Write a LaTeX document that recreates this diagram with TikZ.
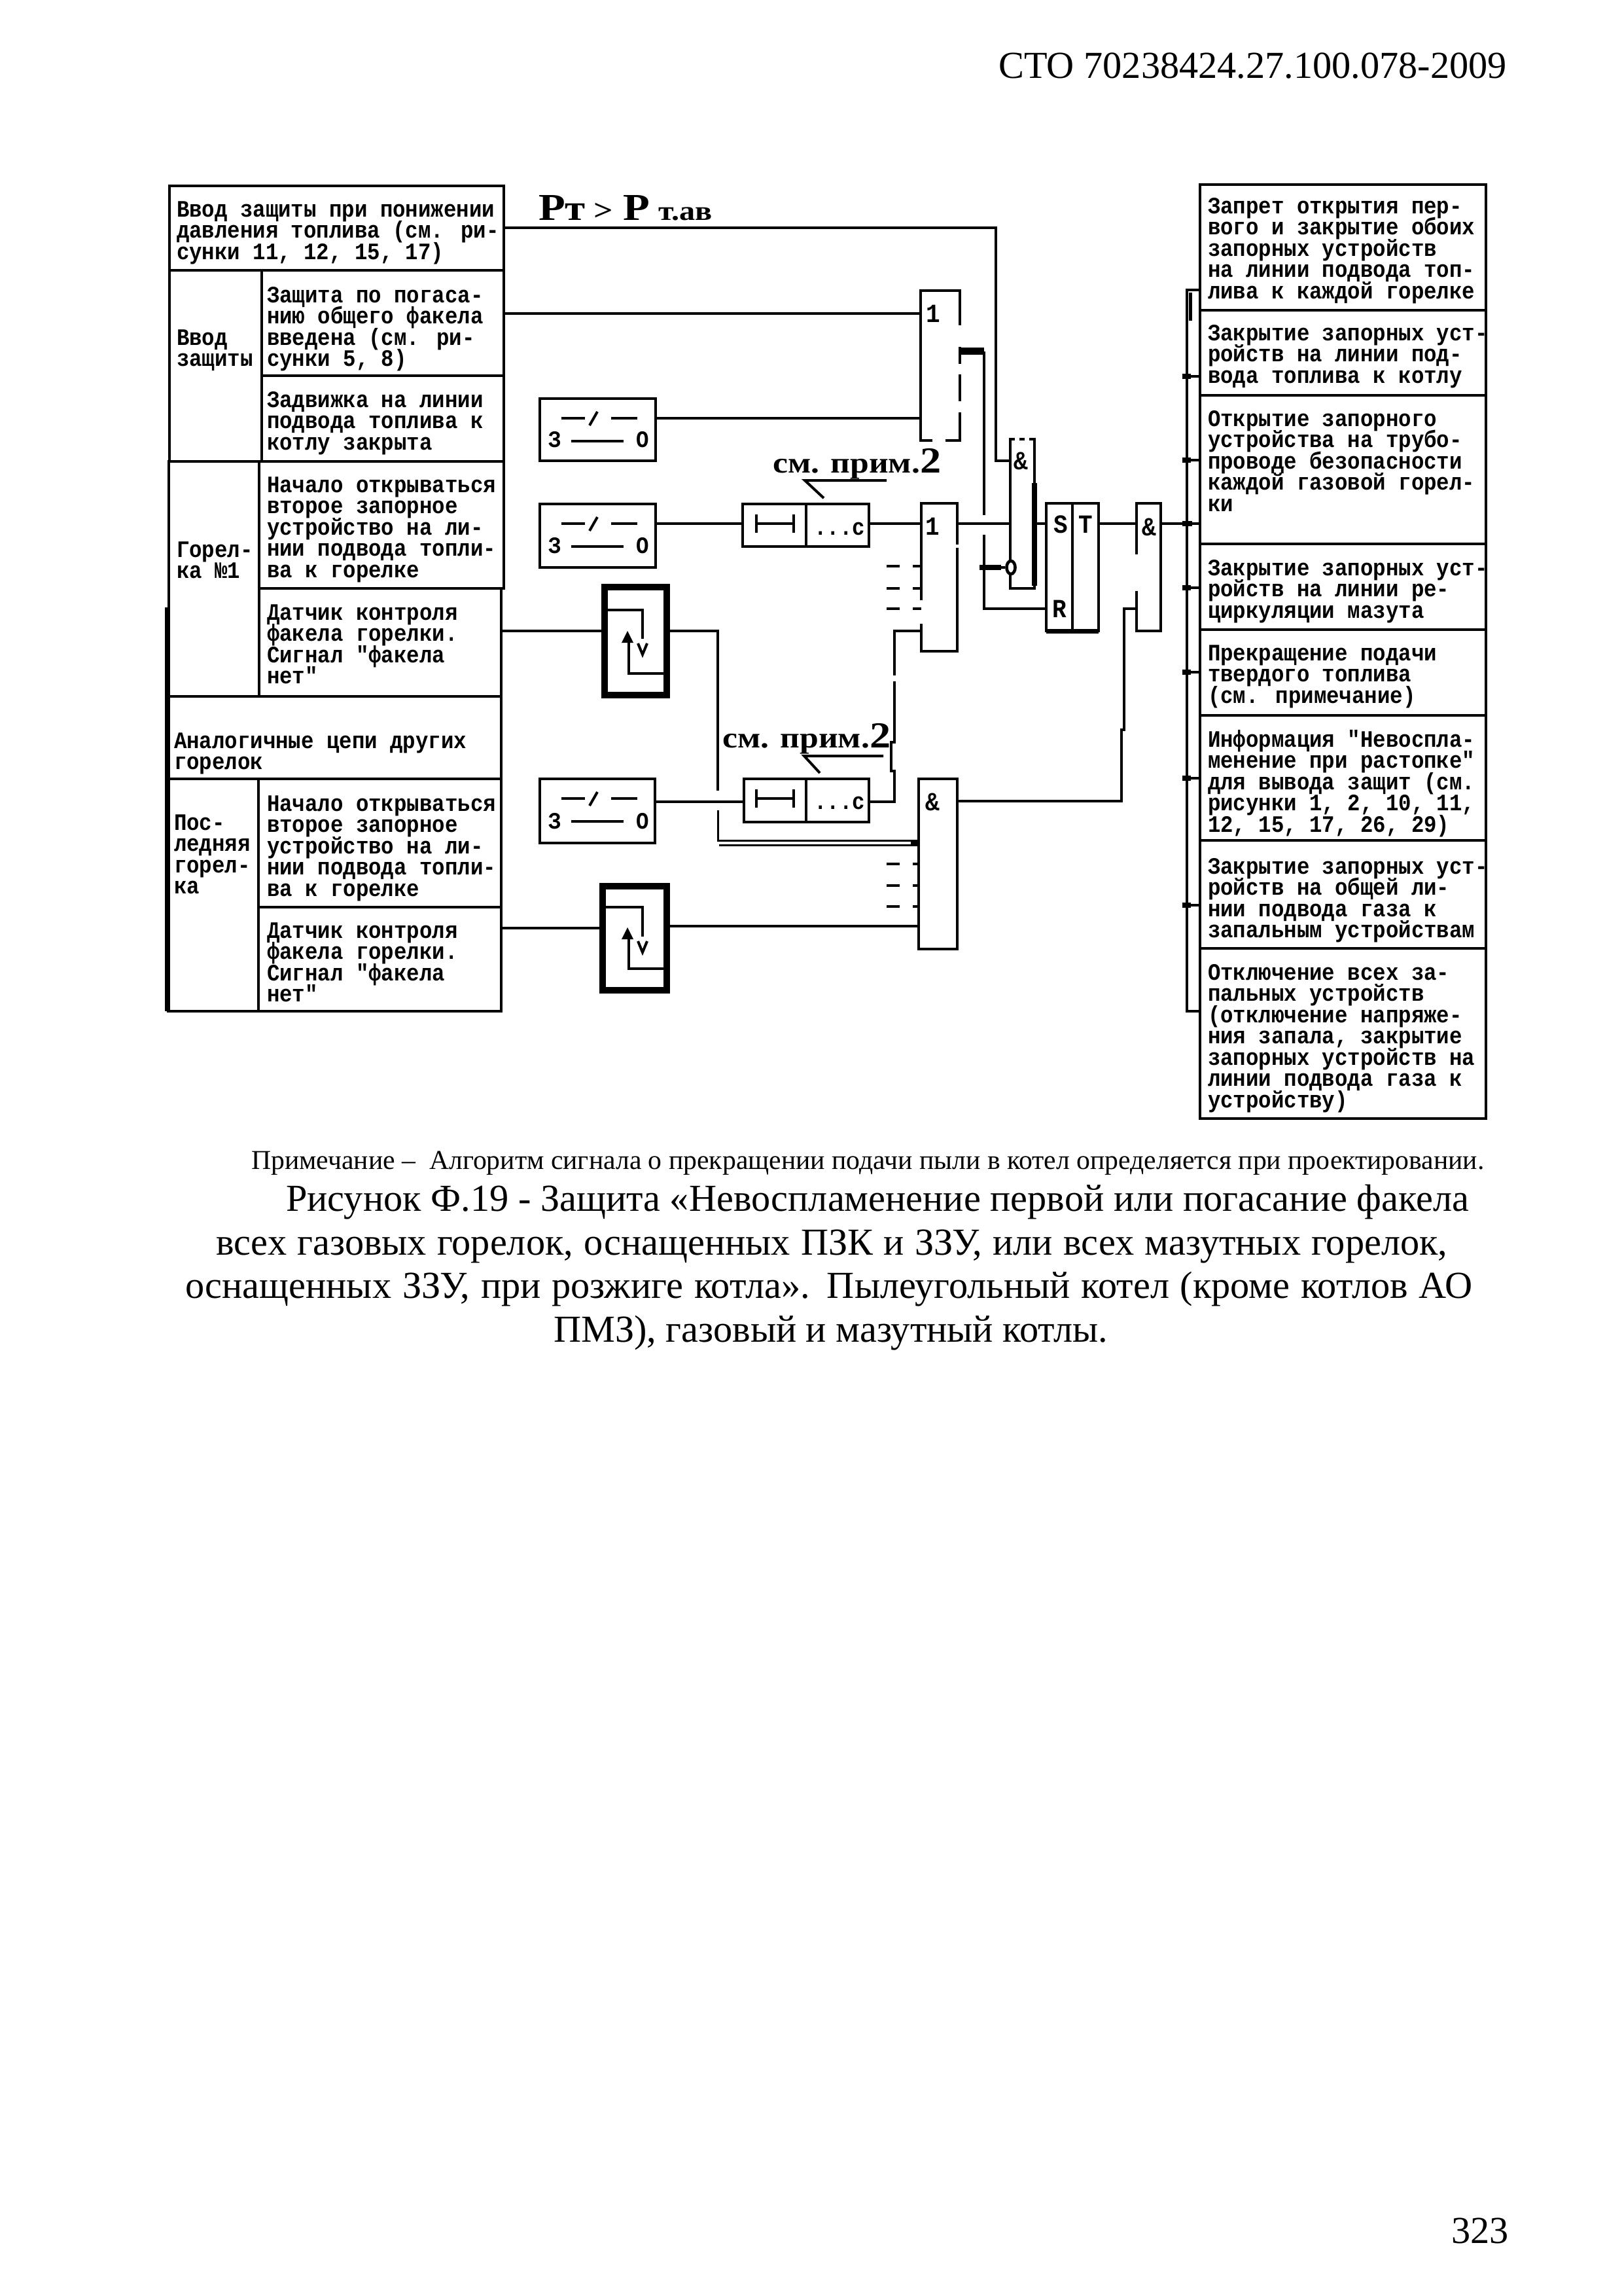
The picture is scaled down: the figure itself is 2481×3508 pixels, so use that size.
\documentclass[tikz,border=0pt]{standalone}
\usepackage{fontspec}
\usetikzlibrary{shapes.geometric}
\setmainfont{Liberation Serif}
\newfontfamily\pix[FakeStretch=0.9]{Liberation Mono}
\newfontfamily\slabf[FakeStretch=1.15]{Liberation Serif}
\newcommand\cellfont{\pix\bfseries\fontsize{36}{32.5}\selectfont\lineskiplimit -100pt\relax}
\newcommand\blk[6]{\node[#6,anchor=north west,minimum width={(#4-#2)*1pt},minimum height={(#5-#3)*1pt}] (#1) at (#2,#3) {};}
\newcommand\celltext[4]{\node[txt] (#1) at (#2,#3-12) {\rule{0pt}{24pt}#4};}
\newcommand\swsym[1]{%
  \draw[thin line] (858,#1+30) -- (894,#1+30);
  \draw[thin line] (913,#1+20) -- (901,#1+41);
  \draw[thin line] (934,#1+30) -- (974,#1+30);
  \draw[thin line] (873,#1+65) -- (953,#1+65);
}
\newcommand\relsym[5]{% top-line y, turn y, arrow tip y, low y
  \draw[ln] (#5.west |- 0,#1) -- (982,#1) -- (982,#2);
  \draw[line width=4] (975,#2+7) -- (982,#2+24) -- (989,#2+7);
  \fill (950,#3+8) -- (959,#3-10) -- (968,#3+8) -- cycle;
  \draw[ln] (961,#3+8) -- (961,#4) -- (#5.east |- 0,#4);
}
\tikzset{
  ln/.style={line width=4.6pt},
  thin line/.style={line width=4pt},
  box/.style={draw,rectangle,line width=4.6pt,inner sep=0pt,outer sep=0pt},
  relay/.style={draw,rectangle,line width=10pt,inner sep=0pt,outer sep=0pt},
  txt/.style={anchor=north west,inner sep=0pt,outer sep=0pt,align=left,font=\cellfont},
  glab/.style={inner sep=0pt,font=\pix\bfseries\fontsize{40}{40}\selectfont},
  slab/.style={inner sep=0pt,font=\pix\bfseries\fontsize{36}{36}\selectfont},
  doc/.style={anchor=base west,inner sep=0pt,font=\fontsize{58.3}{60}\selectfont},
  note/.style={anchor=base west,inner sep=0pt,font=\fontsize{41.7}{50}\selectfont},
  prim/.style={anchor=base west,inner sep=0pt,font=\slabf\bfseries\fontsize{45}{45}\selectfont},
}
\begin{document}
\begin{tikzpicture}[x=1pt,y=-1pt]
\useasboundingbox (0,0) rectangle (2481,3508);
\fill[white] (0,0) rectangle (2481,3508);

% left table
\blk{L1}{259}{284}{770}{413}{box}
\blk{L2}{259}{413}{400}{705}{box}
\blk{L3}{400}{413}{770}{574}{box}
\blk{L4}{400}{574}{770}{705}{box}
\blk{L5}{258}{705}{396}{1064}{box}
\blk{L6}{396}{705}{770}{899}{box}
\blk{L7}{396}{899}{766}{1064}{box}
\blk{L8}{257}{1064}{766}{1190}{box}
\blk{L9}{257}{1190}{395}{1545}{box}
\blk{L10}{395}{1190}{766}{1386}{box}
\blk{L11}{395}{1386}{766}{1545}{box}
\draw[line width=8pt] (256,928) -- (256,1545);

\celltext{tL1}{270}{319}{Ввод защиты при понижении\\давления топлива (см. ри-\\сунки 11, 12, 15, 17)}
\celltext{tL2}{270}{515}{Ввод\\защиты}
\celltext{tL3}{408}{450}{Защита по погаса-\\нию общего факела\\введена (см. ри-\\сунки 5, 8)}
\celltext{tL4}{408}{610}{Задвижка на линии\\подвода топлива к\\котлу закрыта}
\celltext{tL5}{270}{839}{Горел-\\ка №1}
\celltext{tL6}{408}{740}{Начало открываться\\второе запорное\\устройство на ли-\\нии подвода топли-\\ва к горелке}
\celltext{tL7}{408}{935}{Датчик контроля\\факела горелки.\\Сигнал "факела\\нет"}
\celltext{tL8}{266}{1131}{Аналогичные цепи других\\горелок}
\celltext{tL9}{266}{1256}{Пос-\\ледняя\\горел-\\ка}
\celltext{tL10}{408}{1227}{Начало открываться\\второе запорное\\устройство на ли-\\нии подвода топли-\\ва к горелке}
\celltext{tL11}{408}{1421}{Датчик контроля\\факела горелки.\\Сигнал "факела\\нет"}

% right table
\blk{R1}{1834}{282}{2271}{474}{box}
\blk{R2}{1834}{474}{2271}{604}{box}
\blk{R3}{1834}{604}{2271}{831}{box}
\blk{R4}{1834}{831}{2271}{962}{box}
\blk{R5}{1834}{962}{2271}{1093}{box}
\blk{R6}{1834}{1093}{2271}{1284}{box}
\blk{R7}{1834}{1284}{2271}{1449}{box}
\blk{R8}{1834}{1449}{2271}{1709}{box}
\celltext{tR1}{1846}{314}{Запрет открытия пер-\\вого и закрытие обоих\\запорных устройств\\на линии подвода топ-\\лива к каждой горелке}
\celltext{tR2}{1846}{508}{Закрытие запорных уст-\\ройств на линии под-\\вода топлива к котлу}
\celltext{tR3}{1846}{639}{Открытие запорного\\устройства на трубо-\\проводе безопасности\\каждой газовой горел-\\ки}
\celltext{tR4}{1846}{867}{Закрытие запорных уст-\\ройств на линии ре-\\циркуляции мазута}
\celltext{tR5}{1846}{997}{Прекращение подачи\\твердого топлива\\(см. примечание)}
\celltext{tR6}{1846}{1127}{Информация "Невоспла-\\менение при растопке"\\для вывода защит (см.\\рисунки 1, 2, 10, 11,\\12, 15, 17, 26, 29)}
\celltext{tR7}{1846}{1323}{Закрытие запорных уст-\\ройств на общей ли-\\нии подвода газа к\\запальным устройствам}
\celltext{tR8}{1846}{1485}{Отключение всех за-\\пальных устройств\\(отключение напряже-\\ния запала, закрытие\\запорных устройств на\\линии подвода газа к\\устройству)}

% switches
\blk{swa}{825}{609}{1002}{704}{box}
\blk{swb}{825}{770}{1002}{867}{box}
\blk{swc}{825}{1190}{1001}{1288}{box}
\swsym{609}\swsym{770}\swsym{1190}
\node[slab] (sa3) at (848,672) {З}; \node[slab] (sa0) at (982,672) {О};
\node[slab] (sb3) at (848,834) {З}; \node[slab] (sb0) at (982,834) {О};
\node[slab] (sc3) at (848,1255) {З}; \node[slab] (sc0) at (982,1255) {О};

% delays
\blk{dla}{1135}{770}{1232}{835}{box}
\blk{dlb}{1232}{770}{1328}{835}{box}
\blk{dlc}{1137}{1190}{1232}{1256}{box}
\blk{dld}{1232}{1190}{1328}{1256}{box}
\foreach \y in {800,1220}{
  \draw[thin line] (1156,\y-14) -- (1156,\y+14);
  \draw[thin line] (1156,\y) -- (1213,\y);
  \draw[thin line] (1213,\y-14) -- (1213,\y+14);
}
\node[slab,anchor=base west] (dtxa) at (1244,817) {...с};
\node[slab,anchor=base west] (dtxb) at (1244,1236) {...с};

% relays
\blk{rla}{924}{897}{1019}{1062}{relay}
\blk{rlb}{921}{1354}{1019}{1513}{relay}
\relsym{932}{976}{974}{1029}{rla}
\relsym{1386}{1431}{1427}{1480}{rlb}

% gates
\blk{ga}{1407}{444}{1467}{673}{box}
\blk{gb}{1408}{769}{1463}{995}{box}
\blk{gc}{1404}{1190}{1463}{1450}{box}
\blk{gd}{1544}{671}{1581}{899}{box}
\blk{ts}{1599}{769}{1639}{964}{box}
\blk{tt}{1639}{769}{1679}{964}{box}
\blk{ge}{1737}{769}{1774}{964}{box}
\node[glab] (la) at (1426,479) {1};
\node[glab] (lb) at (1425,804) {1};
\node[glab] (lc) at (1425,1225) {\&};
\node[glab] (ld) at (1560,704) {\&};
\node[glab] (le) at (1756,805) {\&};
\node[glab] (ls) at (1621,801) {S};
\node[glab] (lt) at (1659,801) {T};
\node[glab] (lr) at (1619,930) {R};
\draw[line width=8pt] (gd.east |- 0,738) -- (gd.east |- 0,895);
\draw[line width=7pt] (ts.south west) -- (tt.south east);

% gaps in the printed outlines
\fill[white] (1463,497) rectangle (1471,530);
\fill[white] (1463,556) rectangle (1471,572);
\fill[white] (1463,613) rectangle (1471,630);
\fill[white] (1425,669) rectangle (1445,677);
\fill[white] (1403,917) rectangle (1413,953);
\fill[white] (1459,832) rectangle (1467,837);
\fill[white] (1551,667) rectangle (1558,675);
\fill[white] (1566,667) rectangle (1573,675);
\fill[white] (1733,847) rectangle (1741,903);

% connectors
\coordinate (k1) at (1522,704);
\draw[ln] (L1.east |- 0,348) -| (k1) -- (gd.west |- k1);
\draw[ln] (L3.east |- 0,479) -- (ga.west |- 0,479);
\draw[ln] (swa.east |- 0,639) -- (ga.west |- 0,639);
\draw[ln] (swb.east |- 0,800) -- (dla.west |- 0,800);
\draw[ln] (swc.east |- 0,1225) -- (dlc.west |- 0,1225);
\draw[ln] (dlb.east |- 0,800) -- (gb.west |- 0,800);
\coordinate (ka) at (1504,787);
\coordinate (kb) at (1504,817);
\draw[ln] (ga.east |- 0,539) -| (ka);
\draw[line width=11pt] (1467,536) -- (1504,536);
\node[draw,ellipse,line width=4.6pt,fill=white,minimum width=13pt,minimum height=20pt,inner sep=0pt] (inv) at (1545,867) {};
\draw[ln] (kb) -- (1504,930) -- (ts.west |- 0,930);
\draw[ln] (1504,867) -- (inv.west);
\draw[line width=8pt] (1497,867) -- (1530,867);
\draw[ln] (gb.east |- 0,800) -- (gd.west |- 0,800);
\draw[ln] (gd.east |- 0,800) -- (ts.west |- 0,800);
\draw[ln] (tt.east |- 0,800) -- (ge.west |- 0,800);
\draw[ln] (L7.east |- 0,964) -- (rla.west |- 0,964);
\coordinate (kc) at (1097,1208);
\coordinate (kd) at (1097,1238);
\draw[ln] (rla.east |- 0,964) -| (kc);
\draw[line width=3pt] (kd) -- (1097,1284.5) -- (gc.west |- 0,1284.5);
\draw[line width=3pt] (1099,1291.5) -- (gc.west |- 0,1291.5);
\draw[line width=9pt] (1392,1288) -- (gc.west |- 0,1288);
\draw[ln] (L11.east |- 0,1418) -- (rlb.west |- 0,1418);
\draw[ln] (rlb.east |- 0,1415) -- (gc.west |- 0,1415);
\draw[ln] (dld.east |- 0,1225) -- (1367,1225) -- (1367,1178) -- (1362,1178) -- (1362,1134) -- (1367,1134) -- (1367,1041);
\draw[ln] (1367,1032) -- (1367,964) -- (gb.west |- 0,964);
\draw[ln] (gc.east |- 0,1224) -- (1714,1224) -- (1714,1115) -- (1718,1115) -- (1718,930) -- (ge.west |- 0,930);
\foreach \y in {865,899,930}{
  \draw[ln] (1355,\y) -- (1375,\y);
  \draw[ln] (1395,\y) -- (gb.west |- 0,\y);
}
\foreach \y in {1320,1353,1385}{
  \draw[ln] (1355,\y) -- (1375,\y);
  \draw[ln] (1395,\y) -- (gc.west |- 0,\y);
}
% output bus
\draw[ln] (R1.west |- 0,443) -- (1814,443) -- (1814,1545) -- (R8.west |- 0,1545);
\draw[line width=5pt] (1819,447) -- (1819,490);
\foreach \y/\n in {575/R2,703/R3,898/R4,1027/R5,1189/R6,1383/R7}{
  \draw[ln] (1814,\y) -- (\n.west |- 0,\y);
  \draw[line width=8pt] (1807,\y) -- (1820,\y);
}
\draw[ln] (ge.east |- 0,800) -- (R3.west |- 0,800);
\draw[line width=8pt] (1807,800) -- (1822,800);

% labels
\node[anchor=base west,inner sep=0pt,font=\slabf\bfseries] (pt) at (823,336) {{\fontsize{58}{58}\selectfont Р}{\fontsize{55}{55}\selectfont т}\kern12pt{\fontsize{45}{45}\selectfont >}\kern16pt{\fontsize{58}{58}\selectfont Р}\kern13pt{\fontsize{42}{42}\selectfont т.ав}};
\node[prim] (pa) at (1181,722) {см. прим.{\fontsize{56}{56}\selectfont 2}};
\node[prim] (pb) at (1104,1142) {см. прим.{\fontsize{56}{56}\selectfont 2}};
\coordinate (ua) at (1355,734); \coordinate (ub) at (1230,734); \coordinate (uc) at (1259,761);
\coordinate (ud) at (1350,1155); \coordinate (ue) at (1229,1155); \coordinate (uf) at (1253,1181);
\draw[line width=4pt] (ua) -- (ub) -- (uc);
\draw[line width=4pt] (ud) -- (ue) -- (uf);

% page text
\node[doc] (hd) at (1526,120) {СТО 70238424.27.100.078-2009};
\node[note] (nt) at (384,1786) {Примечание –\ \ Алгоритм сигнала о прекращении подачи пыли в котел определяется при проектировании.};
\node[doc] (c1) at (437,1850) {\makebox[1808pt][s]{Рисунок Ф.19 - Защита «Невоспламенение первой или погасание факела}};
\node[doc] (c2) at (330,1917) {\makebox[1882pt][s]{всех газовых горелок, оснащенных ПЗК и ЗЗУ, или всех мазутных горелок,}};
\node[doc] (c3) at (283,1983) {\makebox[1967pt][s]{оснащенных ЗЗУ, при розжиге котла». Пылеугольный котел (кроме котлов АО}};
\node[doc] (c4) at (846,2050) {ПМЗ), газовый и мазутный котлы.};
\node[doc] (pg) at (2218,3427) {323};
\end{tikzpicture}
\end{document}
